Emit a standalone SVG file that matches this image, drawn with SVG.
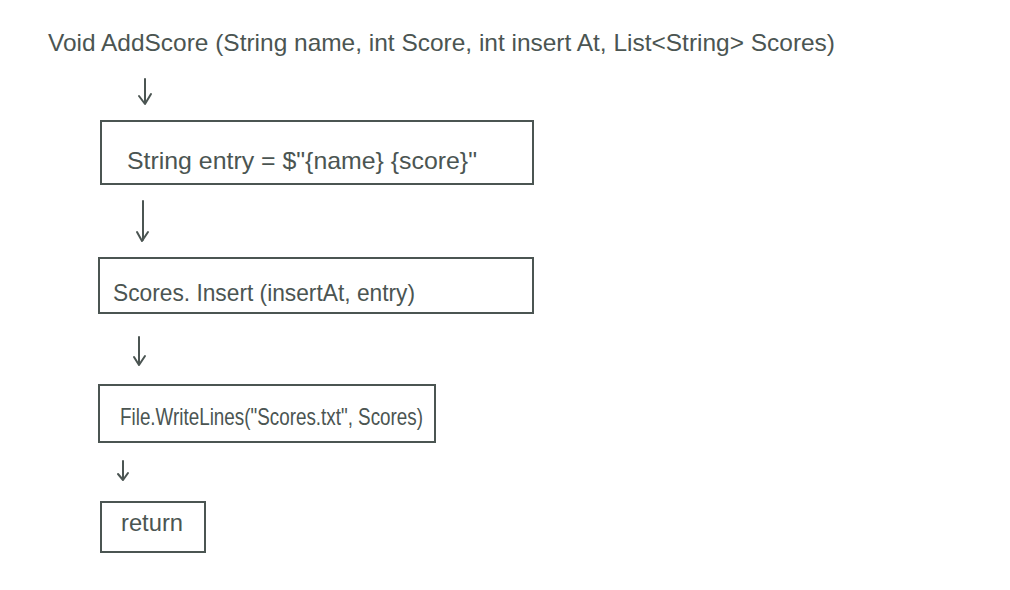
<svg xmlns="http://www.w3.org/2000/svg" width="1010" height="590" viewBox="0 0 1010 590">
<style>
.box{fill:none;stroke:#4b5552;stroke-width:2}
.t{font-family:"Liberation Sans",Arial,sans-serif;fill:#4b5552;font-size:24px}
.c{fill:none;stroke:#4b5552;stroke-width:2;stroke-linecap:round;stroke-linejoin:round}
</style>
<rect width="1010" height="590" fill="#ffffff"/>
<g id="signature"><text class="t" x="48" y="51" font-size="28" textLength="787" lengthAdjust="spacingAndGlyphs">Void AddScore (String name, int Score, int insert At, List&lt;String&gt; Scores)</text></g>
<g id="node-entry"><rect class="box" x="101" y="121" width="432" height="63"/><text class="t" x="127" y="169" textLength="350" lengthAdjust="spacingAndGlyphs">String entry = $"{name} {score}"</text></g>
<g id="node-insert"><rect class="box" x="99" y="258" width="434" height="55"/><text class="t" x="113" y="301" textLength="302" lengthAdjust="spacingAndGlyphs">Scores. Insert (insertAt, entry)</text></g>
<g id="node-write"><rect class="box" x="99" y="385" width="336" height="57"/><text class="t" x="120" y="425" textLength="303" lengthAdjust="spacingAndGlyphs">File.WriteLines("Scores.txt", Scores)</text></g>
<g id="node-return"><rect class="box" x="101" y="502" width="104" height="50"/><text class="t" x="121" y="531" textLength="62" lengthAdjust="spacingAndGlyphs">return</text></g>
<g id="connectors">
<path class="c" d="M145 79 L145 103 M139 96 L145 104 L151 94"/>
<path class="c" d="M143 201 L143 240 M137 232 L142 241 L148 232"/>
<path class="c" d="M139 337 L139 364 M134 357 L139 365 L145 356"/>
<path class="c" d="M123 461 L123 479 M118 474 L123 480 L128 473"/>
</g>
</svg>
